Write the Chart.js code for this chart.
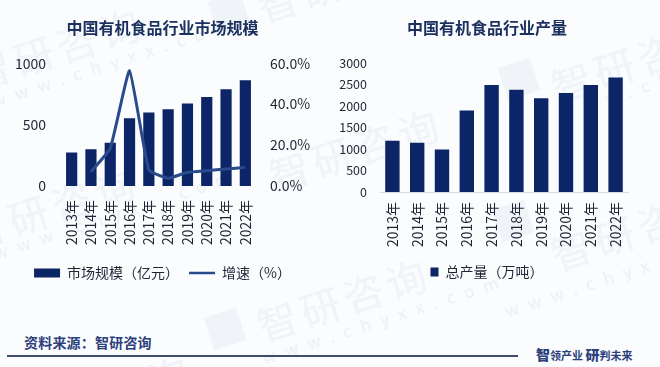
<!DOCTYPE html>
<html>
<head>
<meta charset="utf-8">
<script src="https://cdn.jsdelivr.net/npm/chart.js@4"></script>
<style>
html,body{margin:0;padding:0;}
body{width:660px;height:367px;overflow:hidden;position:relative;background:#fafcfe;font-family:"Noto Sans CJK SC","Noto Sans",sans-serif;}
.wm{position:absolute;white-space:nowrap;color:#f0f3f7;transform:rotate(-18deg);transform-origin:left center;}
.wm.big{font-size:40px;letter-spacing:5px;}
.wm.small{font-size:17px;letter-spacing:10px;color:#edf0f5;}
.logo{position:absolute;width:34px;height:34px;background:#f0f4f9;transform:rotate(-18deg);}
.box{position:absolute;top:0;height:296px;}
#rule{position:absolute;left:7px;top:355px;width:511px;height:1.5px;background:#3f4d6b;}
#src{position:absolute;left:24px;top:332px;font-size:14px;font-weight:700;color:#2c3f7c;letter-spacing:.2px;}
#slogan{position:absolute;left:536px;top:344px;font-size:11px;font-weight:700;color:#2c3f7c;white-space:nowrap;}
#slogan b{font-size:14px;}
</style>
</head>
<body>
<div class="logo" style="left:212px;top:-4px"></div>
<div class="logo" style="left:502px;top:62px"></div>
<div class="logo" style="left:208px;top:312px"></div>
<div class="logo" style="left:496px;top:204px"></div>
<div class="wm big" style="left:-29px;top:46px">智研咨询</div>
<div class="wm small" style="left:-8px;top:88px">www.chyxx.com</div>
<div class="wm big" style="left:258px;top:-22px">智研咨询</div>
<div class="wm big" style="left:552px;top:58px">智研咨询</div>
<div class="wm small" style="left:560px;top:100px">www.chyxx.com</div>
<div class="wm big" style="left:-34px;top:205px">智研咨询</div>
<div class="wm small" style="left:-6px;top:240px">www.chyxx.com</div>
<div class="wm big" style="left:258px;top:297px">智研咨询</div>
<div class="wm small" style="left:262px;top:345px">www.chyxx.com</div>
<div class="wm big" style="left:270px;top:147px">智研咨询</div>
<div class="wm big" style="left:552px;top:226px">智研咨询</div>
<div class="wm small" style="left:505px;top:298px">www.chyxx.com</div>
<div class="wm big" style="left:20px;top:394px">智研咨询</div>

<div class="box" style="left:0;width:325px"><canvas id="sizeChart"></canvas></div>
<div class="box" style="left:338px;width:298px"><canvas id="outputChart"></canvas></div>

<div id="src">资料来源：智研咨询</div>
<div id="rule"></div>
<div id="slogan"><b>智</b>领产业 <b>研</b>判未来</div>

<script>
const years = ['2013年','2014年','2015年','2016年','2017年','2018年','2019年','2020年','2021年','2022年'];
const marketSize = [272,299,353,552,598,625,671,725,788,861];
const growthRate = [null,7.0,18.4,56.3,7.8,3.8,6.7,7.5,8.3,9.1];
const totalOutput = [1195,1149,987,1897,2490,2382,2182,2305,2490,2668];

const NAVY = '#0c2567';
const LINE_BLUE = '#2b4a8c';
const FONT = '"Noto Sans CJK SC","Noto Sans",sans-serif';
const TEXT = '#1f2633';

function legendLabels(chart){
  const list = Chart.defaults.plugins.legend.labels.generateLabels(chart);
  list.forEach((item, i) => {
    item.pointStyle = chart.data.datasets[i].type === 'line' ? 'line' : 'rect';
    item.lineWidth = chart.data.datasets[i].type === 'line' ? 2.5 : 0;
  });
  return list;
}

function titleOpts(text){
  return {
    display: true, text: text, color: '#1c3160',
    font: {family: FONT, size: 16, weight: '700'},
    padding: {top: 4, bottom: 26}
  };
}

function fixWidth(w){
  return function(scale){ scale.width = w; };
}

new Chart(document.getElementById('sizeChart'), {
  type: 'bar',
  data: {
    labels: years,
    datasets: [
      {type: 'line', label: '增速（%）', data: growthRate, yAxisID: 'y2',
        borderColor: LINE_BLUE, backgroundColor: LINE_BLUE, borderWidth: 3,
        pointRadius: 0, tension: 0.12, order: 1},
      {type: 'bar', label: '市场规模（亿元）', data: marketSize, yAxisID: 'y',
        backgroundColor: NAVY, categoryPercentage: 0.58, barPercentage: 1, order: 2}
    ]
  },
  options: {
    responsive: true, maintainAspectRatio: false, animation: false,
    layout: {padding: {top: 14, bottom: 6}},
    plugins: {
      title: titleOpts('中国有机食品行业市场规模'),
      tooltip: {enabled: false},
      legend: {
        position: 'bottom', reverse: true,
        labels: {usePointStyle: true, pointStyleWidth: 26, boxHeight: 9, padding: 10,
          color: TEXT, font: {family: FONT, size: 14}, generateLabels: legendLabels}
      }
    },
    scales: {
      x: {
        grid: {display: false}, border: {display: false},
        ticks: {autoSkip: false, minRotation: 90, maxRotation: 90, padding: 6, color: TEXT, font: {family: FONT, size: 14}},
        afterFit: function(scale){ scale.height = 70; }
      },
      y: {
        min: 0, max: 1000, grid: {display: false}, border: {display: false},
        ticks: {stepSize: 500, padding: 8, color: TEXT, font: {family: FONT, size: 14}, callback: v => String(v)},
        afterFit: fixWidth(62)
      },
      y2: {
        position: 'right', min: 0, max: 60, grid: {display: false}, border: {display: false},
        ticks: {stepSize: 20, padding: 7, color: TEXT, font: {family: FONT, size: 14},
          callback: v => v.toFixed(1) + '%'},
        afterFit: fixWidth(70)
      }
    }
  }
});

new Chart(document.getElementById('outputChart'), {
  type: 'bar',
  data: {
    labels: years,
    datasets: [
      {label: '总产量（万吨）', data: totalOutput, backgroundColor: NAVY,
        categoryPercentage: 0.58, barPercentage: 1}
    ]
  },
  options: {
    responsive: true, maintainAspectRatio: false, animation: false,
    layout: {padding: {top: 14, bottom: 7}},
    plugins: {
      title: titleOpts('中国有机食品行业产量'),
      tooltip: {enabled: false},
      legend: {
        position: 'bottom',
        labels: {boxWidth: 8, boxHeight: 9, padding: 4, color: TEXT, font: {family: FONT, size: 14}}
      }
    },
    scales: {
      x: {
        grid: {display: false}, border: {display: true, color: '#d5dae2'},
        ticks: {autoSkip: false, minRotation: 90, maxRotation: 90, padding: 2, color: TEXT, font: {family: FONT, size: 14}},
        afterFit: function(scale){ scale.height = 69; }
      },
      y: {
        min: 0, max: 3000, grid: {display: false}, border: {display: false},
        ticks: {stepSize: 500, padding: 5, color: TEXT, font: {family: FONT, size: 12.5}, callback: v => String(v)},
        afterFit: fixWidth(42)
      },
      spacer: {
        axis: 'y', position: 'right', display: true, grid: {display: false}, border: {display: false},
        ticks: {display: false},
        afterFit: fixWidth(8)
      }
    }
  }
});
</script>
</body>
</html>
